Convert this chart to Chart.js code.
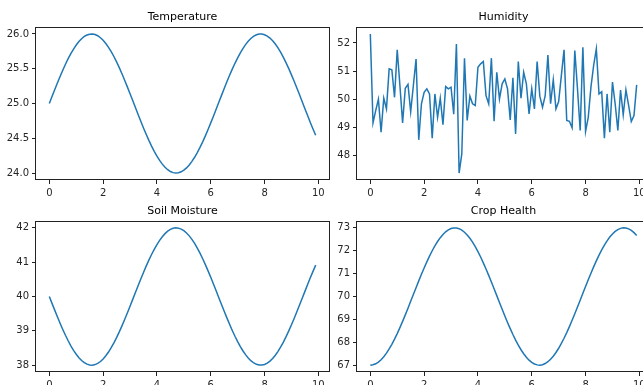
<!DOCTYPE html>
<html>
<head>
<meta charset="utf-8">
<script src="https://cdn.jsdelivr.net/npm/chart.js@4"></script>
<style>
  body { margin: 0; background: #fff; }
  #figure { position: relative; width: 643px; height: 385px; overflow: hidden; background: #fff; }
  #figure canvas { position: absolute; }
</style>
</head>
<body>
<div id="figure">
  <canvas id="tempChart" style="left:0px;top:0px;width:340px;height:200px"></canvas>
  <canvas id="humChart" style="left:321px;top:0px;width:340px;height:200px"></canvas>
  <canvas id="soilChart" style="left:0px;top:194px;width:340px;height:198px"></canvas>
  <canvas id="cropChart" style="left:321px;top:194px;width:340px;height:198px"></canvas>
</div>
<script>
// time axis (0.0 .. 9.9)
const time = [
  0.0, 0.1, 0.2, 0.3, 0.4, 0.5, 0.6, 0.7, 0.8, 0.9,
  1.0, 1.1, 1.2, 1.3, 1.4, 1.5, 1.6, 1.7, 1.8, 1.9,
  2.0, 2.1, 2.2, 2.3, 2.4, 2.5, 2.6, 2.7, 2.8, 2.9,
  3.0, 3.1, 3.2, 3.3, 3.4, 3.5, 3.6, 3.7, 3.8, 3.9,
  4.0, 4.1, 4.2, 4.3, 4.4, 4.5, 4.6, 4.7, 4.8, 4.9,
  5.0, 5.1, 5.2, 5.3, 5.4, 5.5, 5.6, 5.7, 5.8, 5.9,
  6.0, 6.1, 6.2, 6.3, 6.4, 6.5, 6.6, 6.7, 6.8, 6.9,
  7.0, 7.1, 7.2, 7.3, 7.4, 7.5, 7.6, 7.7, 7.8, 7.9,
  8.0, 8.1, 8.2, 8.3, 8.4, 8.5, 8.6, 8.7, 8.8, 8.9,
  9.0, 9.1, 9.2, 9.3, 9.4, 9.5, 9.6, 9.7, 9.8, 9.9
];

const temperature = [
  25.000, 25.100, 25.199, 25.296, 25.389, 25.479, 25.565, 25.644, 25.717, 25.783,
  25.841, 25.891, 25.932, 25.964, 25.985, 25.997, 26.000, 25.992, 25.974, 25.946,
  25.909, 25.863, 25.808, 25.746, 25.676, 25.598, 25.516, 25.427, 25.335, 25.239,
  25.141, 25.042, 24.942, 24.842, 24.745, 24.649, 24.558, 24.470, 24.388, 24.312,
  24.243, 24.182, 24.128, 24.084, 24.048, 24.022, 24.006, 24.000, 24.004, 24.018,
  24.041, 24.074, 24.117, 24.168, 24.227, 24.294, 24.369, 24.449, 24.535, 24.626,
  24.721, 24.818, 24.917, 25.017, 25.117, 25.215, 25.312, 25.405, 25.494, 25.578,
  25.657, 25.729, 25.794, 25.850, 25.899, 25.938, 25.968, 25.988, 25.999, 25.999,
  25.989, 25.970, 25.941, 25.902, 25.855, 25.799, 25.734, 25.663, 25.585, 25.501,
  25.412, 25.319, 25.223, 25.125, 25.025, 24.925, 24.826, 24.728, 24.634, 24.543
];

const humidity = [
  52.32, 49.16, 49.60, 50.00, 48.83, 50.04, 49.66, 51.08, 51.05, 50.07,
  51.76, 50.49, 49.16, 50.39, 50.53, 49.56, 50.49, 51.43, 48.56, 49.84,
  50.25, 50.37, 50.19, 48.62, 50.19, 49.36, 50.04, 49.10, 50.45, 50.37,
  50.43, 49.47, 51.96, 47.38, 48.06, 51.46, 49.25, 50.11, 49.84, 49.78,
  51.14, 51.26, 51.34, 50.13, 49.84, 51.46, 49.22, 50.96, 50.01, 50.55,
  50.72, 50.37, 49.27, 50.76, 48.77, 51.34, 50.04, 50.96, 50.55, 49.48,
  50.37, 49.66, 51.34, 50.11, 49.72, 50.13, 51.57, 49.84, 50.69, 49.66,
  49.92, 50.84, 51.76, 49.25, 49.22, 48.99, 51.73, 50.37, 48.89, 51.85,
  48.86, 49.36, 50.43, 51.20, 51.79, 50.19, 50.27, 48.62, 50.19, 48.83,
  50.61, 49.84, 48.89, 50.33, 49.45, 50.33, 49.78, 49.21, 49.42, 50.51
];

const soilMoisture = [
  40.000, 39.800, 39.603, 39.409, 39.221, 39.041, 38.871, 38.712, 38.565, 38.433,
  38.317, 38.218, 38.136, 38.073, 38.029, 38.005, 38.001, 38.017, 38.052, 38.107,
  38.181, 38.274, 38.383, 38.509, 38.649, 38.803, 38.969, 39.145, 39.330, 39.522,
  39.718, 39.917, 40.117, 40.315, 40.511, 40.702, 40.885, 41.060, 41.224, 41.376,
  41.514, 41.637, 41.743, 41.832, 41.903, 41.955, 41.987, 42.000, 41.992, 41.965,
  41.918, 41.852, 41.767, 41.665, 41.546, 41.411, 41.263, 41.101, 40.929, 40.748,
  40.559, 40.364, 40.166, 39.966, 39.767, 39.570, 39.377, 39.190, 39.012, 38.843,
  38.686, 38.542, 38.413, 38.299, 38.203, 38.124, 38.064, 38.024, 38.003, 38.002,
  38.021, 38.060, 38.119, 38.196, 38.291, 38.403, 38.531, 38.674, 38.830, 38.998,
  39.176, 39.362, 39.554, 39.751, 39.950, 40.150, 40.349, 40.544, 40.733, 40.915
];

const cropHealth = [
  67.000, 67.015, 67.060, 67.134, 67.237, 67.367, 67.524, 67.706, 67.910, 68.135,
  68.379, 68.639, 68.913, 69.198, 69.490, 69.788, 70.088, 70.386, 70.682, 70.970,
  71.248, 71.514, 71.766, 71.999, 72.212, 72.403, 72.571, 72.712, 72.827, 72.913,
  72.970, 72.997, 72.995, 72.963, 72.900, 72.810, 72.690, 72.544, 72.373, 72.178,
  71.961, 71.724, 71.471, 71.202, 70.922, 70.632, 70.337, 70.037, 69.738, 69.441,
  69.149, 68.866, 68.595, 68.337, 68.096, 67.874, 67.673, 67.496, 67.344, 67.218,
  67.119, 67.050, 67.011, 67.000, 67.020, 67.070, 67.149, 67.257, 67.392, 67.553,
  67.738, 67.947, 68.175, 68.422, 68.684, 68.960, 69.246, 69.540, 69.838, 70.138,
  70.437, 70.731, 71.018, 71.294, 71.558, 71.806, 72.036, 72.246, 72.433, 72.596,
  72.733, 72.843, 72.924, 72.977, 72.999, 72.992, 72.954, 72.887, 72.791, 72.668
];

// tick labels
const xTicks = [0, 2, 4, 6, 8, 10];
const tempTicks = [24.0, 24.5, 25.0, 25.5, 26.0];
const humTicks = [48, 49, 50, 51, 52];
const soilTicks = [38, 39, 40, 41, 42];
const cropTicks = [67, 68, 69, 70, 71, 72, 73];

Chart.defaults.font.family = "'DejaVu Sans', sans-serif";
Chart.defaults.color = "#262626";

// matplotlib-style box around the plot area
const spines = {
    id: "spines",
    afterDraw(chart) {
        const { ctx, chartArea: a } = chart;
        ctx.save();
        ctx.strokeStyle = "#222";
        ctx.lineWidth = 1;
        ctx.strokeRect(Math.round(a.left) - 0.5, Math.round(a.top) + 0.5,
            Math.round(a.right - a.left) + 1, Math.round(a.bottom - a.top) - 1);
        ctx.restore();
    }
};

// 5% margins like matplotlib autoscale
function padded(lo, hi) {
    const m = (hi - lo) * 0.05;
    return { min: lo - m, max: hi + m };
}

function makeChart(id, title, values, yTicks, yDecimals) {
    const xr = padded(time[0], time[time.length - 1]);
    const yr = padded(Math.min(...values), Math.max(...values));
    const tickGrid = { display: true, drawOnChartArea: false, drawTicks: true, tickLength: 4, color: "#222", lineWidth: 1 };

    return new Chart(document.getElementById(id), {
        type: "line",
        data: {
            datasets: [{
                data: values.map((v, i) => ({ x: time[i], y: v })),
                borderColor: "#1f77b4",
                borderWidth: 1.5,
                pointRadius: 0,
                tension: 0,
                fill: false
            }]
        },
        options: {
            responsive: false,
            animation: false,
            layout: { padding: { left: 0, right: 11, top: 0, bottom: 0 } },
            plugins: {
                legend: { display: false },
                tooltip: { enabled: false },
                title: {
                    display: true,
                    text: title,
                    fullSize: false,
                    color: "#000",
                    font: { size: 11, weight: "normal", lineHeight: 1.2 },
                    padding: { top: 10.5, bottom: 3.3 }
                }
            },
            scales: {
                x: {
                    type: "linear",
                    min: xr.min,
                    max: xr.max,
                    grid: tickGrid,
                    border: { display: false },
                    ticks: { font: { size: 10 }, padding: 3, maxRotation: 0, callback: v => String(v) },
                    afterBuildTicks: axis => { axis.ticks = xTicks.map(v => ({ value: v })); },
                    afterFit: axis => { axis.height = 20; }
                },
                y: {
                    min: yr.min,
                    max: yr.max,
                    grid: tickGrid,
                    border: { display: false },
                    ticks: { font: { size: 10 }, padding: 3, callback: v => v.toFixed(yDecimals) },
                    afterBuildTicks: axis => { axis.ticks = yTicks.map(v => ({ value: v })); },
                    afterFit: axis => { axis.width = 36; }
                }
            }
        },
        plugins: [spines]
    });
}

makeChart("tempChart", "Temperature", temperature, tempTicks, 1);
makeChart("humChart", "Humidity", humidity, humTicks, 0);
makeChart("soilChart", "Soil Moisture", soilMoisture, soilTicks, 0);
makeChart("cropChart", "Crop Health", cropHealth, cropTicks, 0);
</script>
</body>
</html>
